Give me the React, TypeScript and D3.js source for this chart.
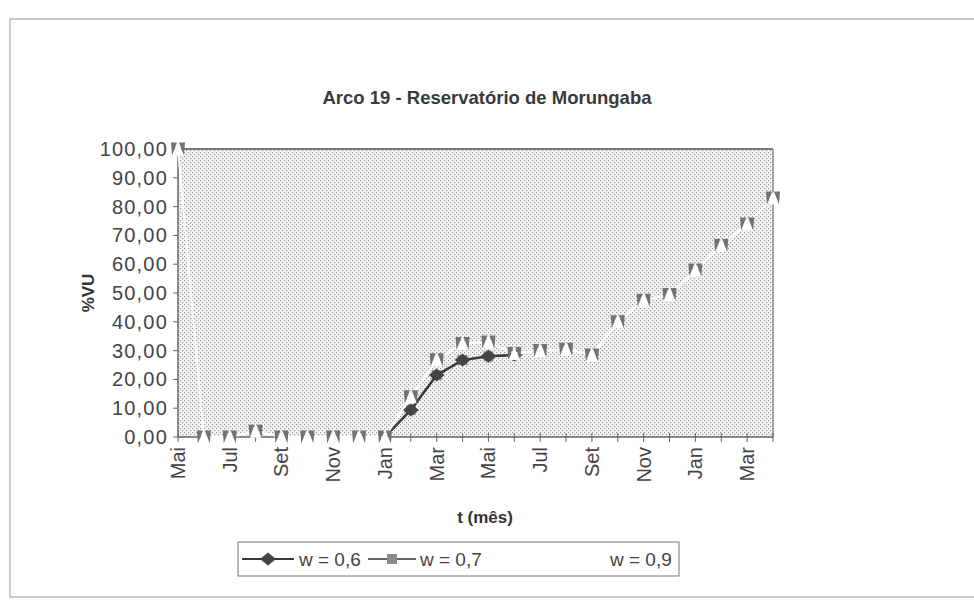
import React from "react";
import * as d3 from "d3";

// ---- data ----
const months = ["Mai","Jun","Jul","Ago","Set","Out","Nov","Dez","Jan","Fev","Mar","Abr","Mai","Jun","Jul","Ago","Set","Out","Nov","Dez","Jan","Fev","Mar","Abr"];
const w06: (number | null)[] = [null,null,null,null,null,null,null,null,0,9.4,21.5,26.7,28,28.5,null,null,null,null,null,null,null,null,null,null];
const w07: (number | null)[] = [null,null,null,null,null,null,null,null,0,9.4,21.5,26.7,28,28.5,null,null,null,null,null,null,null,null,null,null];
const w09: number[] = [100,0,0,2,0,0,0,0,0,14,26.8,32.5,33,29,30,30.5,28.5,40,47.5,49.5,58,66.5,74,83];
const yTicks = [0,10,20,30,40,50,60,70,80,90,100];
const seriesNames = ["w = 0,6","w = 0,7","w = 0,9"];
const title = "Arco 19 - Reservatório de Morungaba";
const yTitle = "%VU";
const xTitle = "t (mês)";

const W = 974, H = 602;
const L = 178, R = 773, T = 149, B = 437;

export default function App() {
  const idx = months.map((_, i) => i);
  const x = d3.scalePoint<number>().domain(idx).range([L, R]);
  const y = d3.scaleLinear().domain([0, 100]).range([B, T]);
  const fmt = (v: number) => v.toFixed(2).replace(".", ",");

  const lineGen = d3.line<[number, number | null]>()
    .defined(d => d[1] !== null)
    .x(d => x(d[0]) as number)
    .y(d => y(d[1] as number));

  const pts = (arr: (number | null)[]) => arr.map((v, i) => [i, v] as [number, number | null]);

  const font = "'Liberation Sans', Arial, sans-serif";
  const wedge = (cx: number, cy: number) => {
    const hw = 7, hh = 6.5;
    return `M${cx - hw},${cy - hh}L${cx - 1},${cy - hh}L${cx - hw + 1},${cy + hh}Z` +
           `M${cx + hw},${cy - hh}L${cx + 1},${cy - hh}L${cx + hw - 1},${cy + hh}Z`;
  };
  const diamond = (cx: number, cy: number) => `M${cx - 8},${cy}L${cx},${cy - 6.5}L${cx + 8},${cy}L${cx},${cy + 6.5}Z`;

  return (
    <svg width={W} height={H} style={{ position: "absolute", left: 0, top: 0, background: "#fff" }} fontFamily={font}>
      <defs>
        <pattern id="dots" width="4" height="4" patternUnits="userSpaceOnUse">
          <rect width="4" height="4" fill="#f5f5f5" />
          <rect x="0" y="0" width="1.2" height="1.2" fill="#9a9a9a" />
          <rect x="2" y="2" width="1.2" height="1.2" fill="#9a9a9a" />
        </pattern>
      </defs>
      {/* outer chart border */}
      <rect x={10} y={19} width={1000} height={578} fill="none" stroke="#9a9a9a" strokeWidth={1} />
      {/* title */}
      <text x={487} y={104} textAnchor="middle" fontSize={18.5} fontWeight="bold" fill="#3a3a3a">{title}</text>

      {/* plot area */}
      <rect x={L} y={T} width={R - L} height={B - T} fill="url(#dots)" />
      <line x1={L} x2={R} y1={T} y2={T} stroke="#7a7a7a" strokeWidth={2} />
      <line x1={R} x2={R} y1={T} y2={B} stroke="#8a8a8a" strokeWidth={1.5} />

      {/* y axis */}
      <line x1={L} x2={L} y1={T} y2={B} stroke="#666" strokeWidth={1.5} />
      {yTicks.map(t => (
        <g key={"y" + t}>
          <line x1={L - 5} x2={L} y1={y(t)} y2={y(t)} stroke="#666" strokeWidth={1} />
          <text x={L - 10} y={y(t) + 7} textAnchor="end" fontSize={20} letterSpacing={1.2} fill="#444">{fmt(t)}</text>
        </g>
      ))}
      <text transform={`translate(94,${(T + B) / 2}) rotate(-90)`} textAnchor="middle" fontSize={17} fontWeight="bold" fill="#333">{yTitle}</text>

      {/* x axis */}
      <line x1={L} x2={R} y1={B} y2={B} stroke="#666" strokeWidth={1.5} />
      {idx.map(i => (
        <line key={"xt" + i} x1={x(i)} x2={x(i)} y1={B - 4} y2={B + 5} stroke="#666" strokeWidth={1} />
      ))}
      {idx.filter(i => i % 2 === 0).map(i => (
        <text key={"xl" + i} transform={`translate(${(x(i) as number) + 7},${B + 10}) rotate(-90)`} textAnchor="end" fontSize={20} fill="#444">{months[i]}</text>
      ))}
      <text x={485} y={523} textAnchor="middle" fontSize={17} fontWeight="bold" fill="#333">{xTitle}</text>

      {/* series w = 0,7 (under) */}
      <path d={lineGen(pts(w07)) || ""} fill="none" stroke="#777" strokeWidth={2} />
      {w07.map((v, i) => v === null ? null : (
        <rect key={"s7" + i} x={(x(i) as number) - 5} y={y(v) - 5} width={10} height={10} fill="#8c8c8c" />
      ))}
      {/* series w = 0,6 */}
      <path d={lineGen(pts(w06)) || ""} fill="none" stroke="#3a3a3a" strokeWidth={2.5} />
      {w06.map((v, i) => v === null || v === 0 ? null : (
        <path key={"s6" + i} d={diamond(x(i) as number, y(v))} fill="#444" />
      ))}
      {/* series w = 0,9 */}
      <path d={lineGen(pts(w09)) || ""} fill="none" stroke="#fff" strokeWidth={2} />
      {w09.map((v, i) => (
        <g key={"s9" + i}>
          <path d={`M${(x(i) as number) - 6},${y(v) + 6.5}L${x(i)},${y(v) - 6.5}L${(x(i) as number) + 6},${y(v) + 6.5}Z`} fill="#fff" />
          <path d={wedge(x(i) as number, y(v))} fill="#727272" />
        </g>
      ))}

      {/* legend */}
      <rect x={238} y={542} width={441} height={34} fill="#fff" stroke="#777" strokeWidth={1} />
      <line x1={242} x2={294} y1={559} y2={559} stroke="#3a3a3a" strokeWidth={2} />
      <path d={diamond(268, 559)} fill="#444" />
      <text x={299} y={566} fontSize={19} fill="#444">{seriesNames[0]}</text>
      <line x1={368} x2={416} y1={559} y2={559} stroke="#666" strokeWidth={2} />
      <rect x={387} y={554} width={10} height={10} fill="#8c8c8c" />
      <text x={420} y={566} fontSize={19} fill="#444">{seriesNames[1]}</text>
      <text x={610} y={566} fontSize={19} fill="#444">{seriesNames[2]}</text>
    </svg>
  );
}
